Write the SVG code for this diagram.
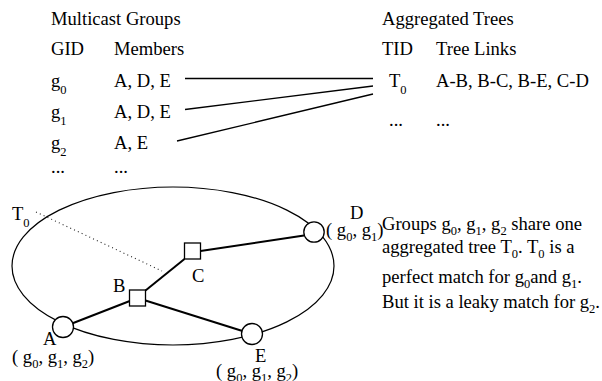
<svg xmlns="http://www.w3.org/2000/svg" width="602" height="381" viewBox="0 0 602 381">
<style>
text { font-family: "Liberation Serif", "Times New Roman", serif; font-size: 18.6px; fill: #000; }
.sub { font-size: 12.5px; }
.node { fill: #fff; stroke: #000; stroke-width: 1.3; }
.region { fill: none; stroke: #000; stroke-width: 1.2; }
.link { stroke: #000; stroke-width: 2; fill: none; }
.map { stroke: #000; stroke-width: 1.3; fill: none; }
.dot { stroke: #222; stroke-width: 1.1; stroke-dasharray: 1 3.2; fill: none; }
</style>
<rect width="602" height="381" fill="#fff"/>

<g id="table-groups">
  <text x="51" y="24.5">Multicast Groups</text>
  <text x="51" y="55">GID</text>
  <text x="114" y="55">Members</text>
  <text x="51" y="86.5">g<tspan class="sub" dy="7">0</tspan></text>
  <text x="114" y="86.5">A, D, E</text>
  <text x="51" y="117.5">g<tspan class="sub" dy="7">1</tspan></text>
  <text x="114" y="117.5">A, D, E</text>
  <text x="51" y="148.5">g<tspan class="sub" dy="7">2</tspan></text>
  <text x="114" y="148.5">A, E</text>
  <text x="51" y="172.5">...</text>
  <text x="114" y="172.5">...</text>
</g>

<g id="table-trees">
  <text x="382" y="24.5">Aggregated Trees</text>
  <text x="382" y="55">TID</text>
  <text x="436" y="55">Tree Links</text>
  <text x="389" y="86.5">T<tspan class="sub" dy="7.5">0</tspan></text>
  <text x="436" y="86.5">A-B, B-C, B-E, C-D</text>
  <text x="389" y="126">...</text>
  <text x="436" y="126">...</text>
</g>

<g id="region-T0">
  <ellipse class="region" cx="173" cy="266" rx="161" ry="79"/>
  <text x="12" y="220">T<tspan class="sub" dy="7">0</tspan></text>
</g>

<g id="connectors">
  <line class="map" x1="185" y1="78.5" x2="373" y2="78.5"/>
  <line class="map" x1="185" y1="109.5" x2="373" y2="86"/>
  <line class="map" x1="177" y1="141" x2="373" y2="94"/>
  <line class="link" x1="63" y1="327" x2="137.5" y2="298"/>
  <line class="link" x1="145.5" y1="290.5" x2="184.5" y2="259"/>
  <line class="link" x1="137.5" y1="298" x2="252" y2="334"/>
  <line class="link" x1="200.5" y1="251" x2="304" y2="235.5"/>
  <line class="dot" x1="36" y1="212" x2="162" y2="271"/>
</g>

<g id="node-A">
  <circle class="node" cx="63" cy="327" r="10.5"/>
  <text x="43" y="345">A</text>
  <text x="12" y="363">( g<tspan class="sub" dy="5">0</tspan><tspan dy="-5">, g</tspan><tspan class="sub" dy="5">1</tspan><tspan dy="-5">, g</tspan><tspan class="sub" dy="5">2</tspan><tspan dy="-5">)</tspan></text>
</g>

<g id="node-B">
  <rect class="node" x="129.5" y="290" width="16" height="16"/>
  <text x="113" y="291.5">B</text>
</g>

<g id="node-C">
  <rect class="node" x="184.5" y="243" width="16" height="16"/>
  <text x="192" y="282">C</text>
</g>

<g id="node-D">
  <circle class="node" cx="314" cy="232" r="10.2"/>
  <text x="350" y="219">D</text>
  <text x="326" y="236">( g<tspan class="sub" dy="5">0</tspan><tspan dy="-5">, g</tspan><tspan class="sub" dy="5">1</tspan><tspan dy="-5">)</tspan></text>
</g>

<g id="node-E">
  <circle class="node" cx="252" cy="334" r="10.5"/>
  <text x="255" y="362">E</text>
  <text x="216" y="376.5">( g<tspan class="sub" dy="5">0</tspan><tspan dy="-5">, g</tspan><tspan class="sub" dy="5">1</tspan><tspan dy="-5">, g</tspan><tspan class="sub" dy="5">2</tspan><tspan dy="-5">)</tspan></text>
</g>

<g id="caption">
  <text x="382" y="230">Groups g<tspan class="sub" dy="5">0</tspan><tspan dy="-5">, g</tspan><tspan class="sub" dy="5">1</tspan><tspan dy="-5">, g</tspan><tspan class="sub" dy="5">2</tspan><tspan dy="-5"> share one</tspan></text>
  <text x="382" y="253">aggregated tree T<tspan class="sub" dy="5">0</tspan><tspan dy="-5">. T</tspan><tspan class="sub" dy="5">0</tspan><tspan dy="-5"> is a</tspan></text>
  <text x="382" y="283">perfect match for g<tspan class="sub" dy="5">0</tspan><tspan dy="-5">and g</tspan><tspan class="sub" dy="5">1</tspan><tspan dy="-5">.</tspan></text>
  <text x="382" y="308">But it is a leaky match for g<tspan class="sub" dy="5">2</tspan><tspan dy="-5">.</tspan></text>
</g>
</svg>
